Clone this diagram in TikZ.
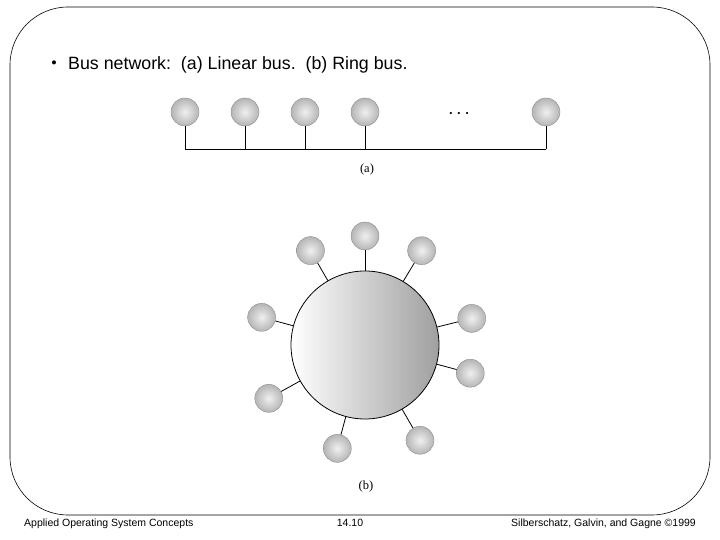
\documentclass[tikz,border=0pt]{standalone}
\usepackage{fontspec}
\setmainfont{Liberation Serif}
\setsansfont{Liberation Sans}
\usetikzlibrary{calc}
\begin{document}
\begin{tikzpicture}[x=1pt,y=1pt,
        station/.style={circle, draw=black!45, thin, shading=radial, inner color=gray!12, outer color=gray!58, minimum size=28pt, inner sep=0pt},
        wire/.style={draw, line width=0.8pt},
        footer/.style={font=\sffamily\fontsize{10.5}{12}\selectfont}]
        \useasboundingbox (0,0) rectangle (720,540);
        \draw[line width=0.6pt, rounded corners=58pt] (10,25) rectangle (710,533);
        \node[font=\sffamily\fontsize{17.8}{20}\selectfont, anchor=base west, inner sep=0pt] (title) at (68,470) {Bus network:\ \ (a) Linear bus.\ \ (b) Ring bus.};
        \node[font=\fontsize{17}{17}\selectfont, anchor=base, inner sep=0pt] (bullet) at (54,471) {\textbullet};
        % (a) linear bus
        \foreach \n/\x in {1/185,2/245,3/305,4/365,5/546}
        {%
            \node[station] (a\n) at (\x,428) {};
            \coordinate (t\n) at (\x,391);
            \draw[wire] (a\n) -- (t\n);
        }%
        \draw[wire] (t1) -- (t5);
        \node[font=\fontsize{9}{9}\selectfont] (dots) at (459,426) {\textbullet\hspace{5pt}\textbullet\hspace{5pt}\textbullet};
        \node[font=\fontsize{12.5}{14}\selectfont] (lbla) at (367,370) {(a)};
        % (b) ring bus
        \node[circle, draw, line width=0.8pt, minimum size=148pt, shading=axis, left color=white, right color=gray!75] (ring) at (365,195) {};
        \foreach \n/\a/\d in {1/90/109,2/120/109,3/59/110,4/165/107,5/14/110,6/-15/109,7/209/110,8/255/107,9/300/110}
        {%
            \node[station] (b\n) at ($(ring.center)+(\a:\d)$) {};
            \draw[wire] (b\n) -- (ring);
        }%
        \node[font=\fontsize{12.5}{14}\selectfont] (lblb) at (366,54) {(b)};
        % footer
        \node[footer, anchor=base west, inner sep=0pt] (course) at (24,13) {Applied Operating System Concepts};
        \node[footer, anchor=base, inner sep=0pt] (page) at (350,13) {14.10};
        \node[footer, anchor=base east, inner sep=0pt] (authors) at (696,13) {Silberschatz, Galvin, and Gagne \textcopyright1999};
    \end{tikzpicture}
\end{document}
